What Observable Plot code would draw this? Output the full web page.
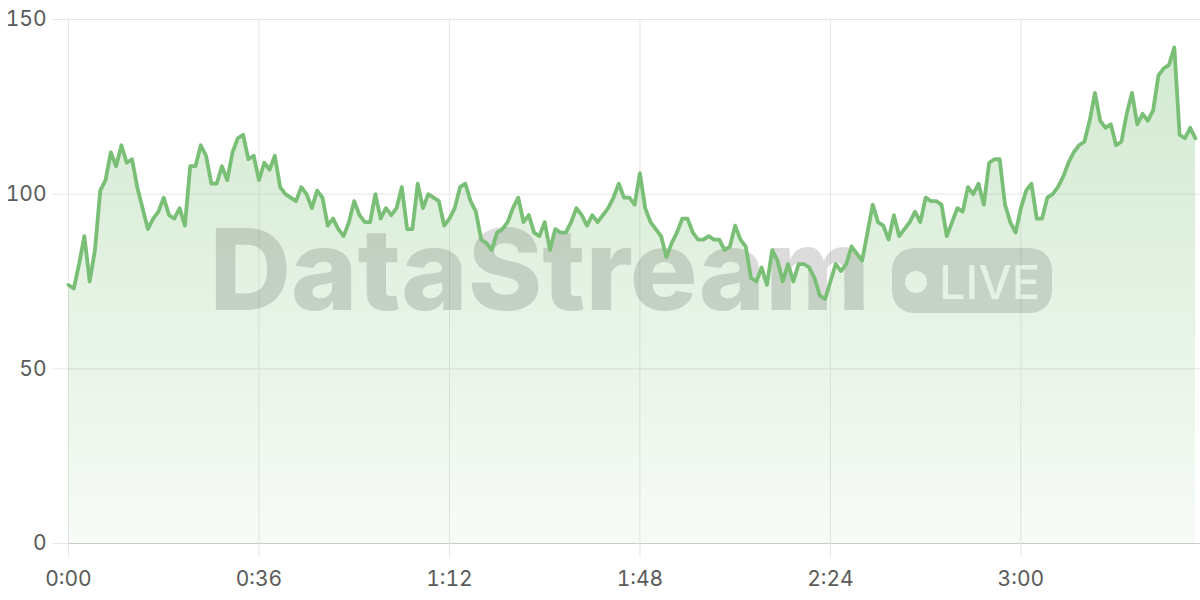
<!DOCTYPE html>
<html><head><meta charset="utf-8">
<script src="https://cdn.jsdelivr.net/npm/d3@7"></script>
<script src="https://cdn.jsdelivr.net/npm/@observablehq/plot@0.6"></script>
<style>body{margin:0;background:#fff;}</style>
</head><body><div id="chart"></div>
<script>
// time in seconds (one sample per second)
const values = [
74,73,80,88,75,84,101,104,112,108,114,109,110,102,96,90,93,95,99,94,
93,96,91,108,108,114,111,103,103,108,104,112,116,117,110,111,104,109,107,111,
102,100,99,98,102,100,96,101,99,91,93,90,88,92,98,94,92,92,100,93,
96,94,96,102,90,90,103,96,100,99,98,91,93,96,102,103,98,95,87,86,
84,89,90,92,96,99,92,94,89,88,92,84,90,89,89,92,96,94,91,94,
92,94,96,99,103,99,99,97,106,96,92,90,88,82,86,89,93,93,89,87,
87,88,87,87,84,85,91,87,85,76,75,79,74,84,81,75,80,75,80,80,
79,76,71,70,75,80,78,80,85,83,81,89,97,92,91,87,94,88,90,92,
95,92,99,98,98,97,88,92,96,95,102,100,103,97,109,110,110,97,92,89,
96,101,103,93,93,99,100,102,105,109,112,114,115,121,129,121,119,120,114,115,
123,129,120,123,121,124,134,136,137,142,117,116,119,116
];
const seconds = values.map((_, i) => i);
const xTicks = [0, 36, 72, 108, 144, 180];
const yTicks = [0, 50, 100, 150];
const watermarkText = "DataStream";
const badgeText = "LIVE";

const data = seconds.map((t, i) => ({t, v: values[i]}));
const fmt = t => `${Math.floor(t / 60)}:${String(t % 60).padStart(2, "0")}`;
const NS = "http://www.w3.org/2000/svg";
const green = "#7abf76";
const gridColor = "#e6e6e6";
const FONT = "Inter, 'Noto Sans', sans-serif";

function defsMark() {
  const defs = document.createElementNS(NS, "defs");
  defs.innerHTML = `<linearGradient id="areaGrad" x1="0" y1="0" x2="0" y2="1">
    <stop offset="0" stop-color="${green}" stop-opacity="0.34"/>
    <stop offset="1" stop-color="${green}" stop-opacity="0.06"/>
  </linearGradient>`;
  return defs;
}

function watermarkMark(index, scales, vals, dims) {
  const d = dims || {width: 1200, height: 600, marginLeft: 68, marginRight: 0, marginTop: 19, marginBottom: 57};
  const x0 = d.marginLeft, cy = d.marginTop + 262;
  const g = document.createElementNS(NS, "g");
  g.setAttribute("text-anchor", "start");
  const px = x0 + 824, py = cy - 33;
  g.innerHTML = `
    <mask id="pillMask" maskUnits="userSpaceOnUse" x="0" y="0" width="${d.width}" height="${d.height}">
      <rect x="${px}" y="${py}" width="160" height="65" rx="21" fill="#fff"/>
      <circle cx="${px + 24}" cy="${cy + 1}" r="11" fill="#000"/>
      <text x="${px + 47}" y="${cy + 18}" text-anchor="start" font-family="${FONT}" font-weight="500" font-size="47" fill="#000">${badgeText}</text>
    </mask>
    <text x="${x0 + 802}" y="${cy + 29}" text-anchor="end" font-family="${FONT}" font-weight="800" font-size="113" fill="#4f574f" fill-opacity="0.21">${watermarkText}</text>
    <rect x="${px}" y="${py}" width="160" height="65" rx="21" fill="#4f574f" fill-opacity="0.2" mask="url(#pillMask)"/>
  `;
  return g;
}

const chart = Plot.plot({
  width: 1200,
  height: 600,
  marginTop: 19,
  marginBottom: 57,
  marginLeft: 68,
  marginRight: 0,
  style: {fontFamily: FONT, fontSize: "21px", color: "#5a5a5a", background: "#fff"},
  x: {domain: [0, 213.95]},
  y: {domain: [0, 150]},
  marks: [
    defsMark,
    Plot.gridX(xTicks, {stroke: gridColor, strokeOpacity: 1}),
    Plot.gridY(yTicks, {stroke: gridColor, strokeOpacity: 1}),
    Plot.areaY(data, {x: "t", y: "v", fill: "url(#areaGrad)"}),
    watermarkMark,
    Plot.lineY(data, {x: "t", y: "v", stroke: green, strokeWidth: 3.8}),
    Plot.ruleY([0], {stroke: "#cccccc"}),
    Plot.axisX(xTicks, {tickFormat: fmt, tickSize: 14, tickPadding: 14, stroke: gridColor, fill: "#5a5a5a", label: null}),
    Plot.axisY(yTicks, {tickSize: 15, tickPadding: 7, stroke: gridColor, fill: "#5a5a5a", label: null})
  ]
});
document.getElementById("chart").append(chart);
</script>
</body></html>
